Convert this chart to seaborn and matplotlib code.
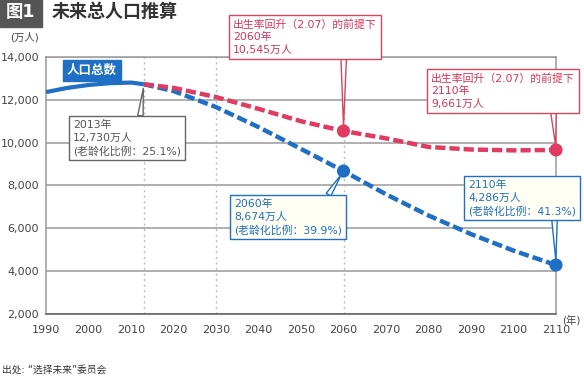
import numpy as np
import pandas as pd
import matplotlib
matplotlib.use('Agg')
import matplotlib.pyplot as plt
import seaborn as sns

# data (万人)
years_actual = [1990, 1995, 2000, 2005, 2010, 2013]
pop_actual = [12361, 12557, 12693, 12777, 12806, 12730]

years_proj = [2013, 2020, 2030, 2040, 2050, 2060, 2070, 2080, 2090, 2100, 2110]
pop_base = [12730, 12410, 11662, 10728, 9708, 8674, 7590, 6600, 5730, 4959, 4286]
pop_recover = [12730, 12560, 12130, 11580, 11000, 10545, 10200, 9800, 9680, 9640, 9661]

x_ticks = list(range(1990, 2111, 10))
y_ticks = [2000, 4000, 6000, 8000, 10000, 12000, 14000]
ref_years = [2013, 2030, 2060]

BLUE = '#1f6fc5'
RED = '#e03c63'
GRAY = '#555555'

sns.set_style('white')
plt.rcParams['font.family'] = ['DejaVu Sans', 'Noto Sans CJK SC']

fig = plt.figure(figsize=(5.84, 3.8), dpi=100)
ax = fig.add_axes([46 / 584, 1 - 314 / 380, 510 / 584, 257 / 380])

# grid + reference lines
for v in y_ticks:
    ax.axhline(v, color='#9a9a9a', lw=1.1, zorder=0)
for yr in ref_years:
    ax.axvline(yr, color='#bbbbbb', lw=1.0, ls=(0, (1.5, 2.5)), zorder=0)

# lines
sns.lineplot(x=years_actual, y=pop_actual, ax=ax, color=BLUE, lw=3.0,
             solid_capstyle='butt', zorder=3)
sns.lineplot(x=years_proj, y=pop_base, ax=ax, color=BLUE, lw=3.2, zorder=3)
ax.lines[-1].set_dashes([2.3, 0.9])
sns.lineplot(x=years_proj, y=pop_recover, ax=ax, color=RED, lw=3.2, zorder=4)
ax.lines[-1].set_dashes([2.3, 0.9])

# markers at 2060 / 2110
idx = [years_proj.index(2060), years_proj.index(2110)]
sns.scatterplot(x=[years_proj[i] for i in idx], y=[pop_base[i] for i in idx],
                ax=ax, color=BLUE, s=90, edgecolor='none', zorder=5, clip_on=False)
sns.scatterplot(x=[years_proj[i] for i in idx], y=[pop_recover[i] for i in idx],
                ax=ax, color=RED, s=90, edgecolor='none', zorder=5, clip_on=False)

ax.set_xlim(1990, 2110)
ax.set_ylim(2000, 14000)
ax.set_xticks(x_ticks)
ax.set_yticks(y_ticks)
ax.set_yticklabels([f'{v:,}' for v in y_ticks])
ax.tick_params(axis='x', direction='in', length=4, color='#777777', labelsize=8,
               labelcolor='#444444', pad=8)
ax.tick_params(axis='y', length=0, labelsize=8, labelcolor='#444444', pad=5)
ax.set_xlabel('')
ax.set_ylabel('')
for side in ['top', 'right', 'left']:
    ax.spines[side].set_color('#9a9a9a')
    ax.spines[side].set_linewidth(1.1)
ax.spines['bottom'].set_color('#666666')
ax.spines['bottom'].set_linewidth(1.2)


def fp(x, y):
    # figure pixel (from top-left) -> figure fraction
    return (x / 584, 1 - y / 380)


def callout(text, xy, box_xy, color, fc, relpos, tc=None):
    ax.annotate(text, xy=xy, xycoords='data', xytext=fp(*box_xy),
                textcoords='figure fraction', ha='left', va='top',
                fontsize=7.8, color=tc or color, linespacing=1.3,
                bbox=dict(boxstyle='square,pad=0.35', fc=fc, ec=color, lw=1.0),
                arrowprops=dict(arrowstyle='wedge,tail_width=0.5', fc=fc, ec=color,
                                lw=1.0, relpos=relpos, shrinkA=0, shrinkB=3),
                annotation_clip=False, zorder=6)


callout('出生率回升（2.07）的前提下\n2060年\n10,545万人', (2060, 10545),
        (233, 19), '#d4475f', 'white', (0.77, 0.0), tc='#d6345a')
callout('出生率回升（2.07）的前提下\n2110年\n9,661万人', (2110, 9661),
        (431, 73), '#d4475f', 'white', (0.85, 0.0), tc='#d6345a')
callout('2013年\n12,730万人\n(老龄化比例：25.1%)', (2013, 12730),
        (73, 120), '#666666', 'white', (0.62, 1.0), tc=GRAY)
callout('2060年\n8,674万人\n(老龄化比例：39.9%)', (2060, 8674),
        (234, 199), BLUE, '#fffff4', (0.85, 1.0))
callout('2110年\n4,286万人\n(老龄化比例：41.3%)', (2110, 4286),
        (468, 180), BLUE, '#fffff4', (0.8, 0.0))

# 人口总数 label
ax.annotate('人口总数', xy=(1995.5, 12880), xytext=fp(67, 64),
            textcoords='figure fraction', ha='left', va='top', fontsize=9,
            color='white', fontweight='bold',
            bbox=dict(boxstyle='square,pad=0.3', fc=BLUE, ec=BLUE),
            arrowprops=dict(arrowstyle='wedge,tail_width=0.4', fc=BLUE, ec=BLUE,
                            relpos=(0.1, 0.0), shrinkA=0, shrinkB=0),
            annotation_clip=False, zorder=6)

# title, units, source
fig.text(*fp(6, 12), '图1', ha='left', va='center', fontsize=12.5, color='white',
         fontweight='bold',
         bbox=dict(boxstyle='square,pad=0.35', fc='#555555', ec='#555555'))
fig.text(*fp(52, 12), '未来总人口推算', ha='left', va='center', fontsize=13,
         color='#333333', fontweight='bold')
fig.text(*fp(10, 37), '(万人)', ha='left', va='center', fontsize=7.5, color='#444444')
fig.text(*fp(562, 320), '(年)', ha='left', va='center', fontsize=7.5, color='#444444')
fig.text(*fp(2, 370), '出处: “选择未来”委员会', ha='left', va='center', fontsize=7,
         color='#333333')

fig.savefig('out.png', dpi=100)
